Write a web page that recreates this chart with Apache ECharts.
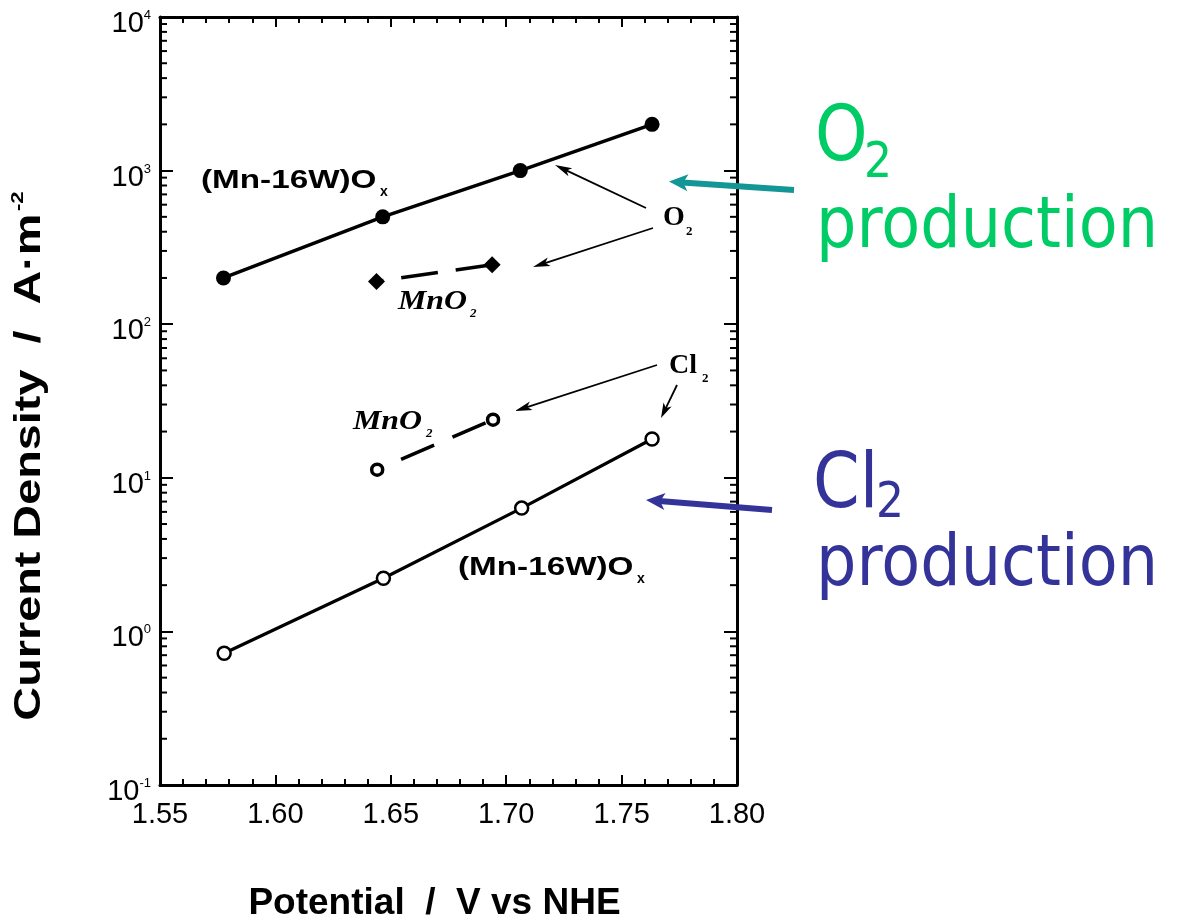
<!DOCTYPE html>
<html>
<head>
<meta charset="utf-8">
<script src="https://cdn.jsdelivr.net/npm/echarts@6/dist/echarts.min.js"></script>
<style>html,body{margin:0;padding:0;background:#fff;}#chart{width:1180px;height:916px;}</style>
</head>
<body>
<div id="chart"></div>
<script>
// ---- data ----
const o2Mn16W_x = [1.5775, 1.6465, 1.7061, 1.7632];
const o2Mn16W_y = [200, 500, 1000, 2000];
const o2MnO2_x = [1.6438, 1.6939];
const o2MnO2_y = [190, 244];
const cl2MnO2_x = [1.6441, 1.6943];
const cl2MnO2_y = [11.3, 23.9];
const cl2Mn16W_x = [1.5778, 1.6468, 1.7067, 1.7632];
const cl2Mn16W_y = [0.72, 2.22, 6.35, 17.9];
// axis ticks
const xMin = 1.55, xMax = 1.80, xStep = 0.05;
const yMin = 0.1, yMax = 10000;
const logDecades = [0.1, 1, 10, 100, 1000];
const logMinorMultipliers = [2, 3, 4, 5, 6, 7, 8, 9];

const pairs = (xs, ys) => xs.map((x, i) => [x, ys[i]]);
const minorTickValues = [];
logDecades.forEach(d => logMinorMultipliers.forEach(m => minorTickValues.push([xMin, +(d * m).toPrecision(3)])));

const chart = echarts.init(document.getElementById('chart'));

function arrow(x1, y1, x2, y2, color, w, hl, hw) {
  const a = Math.atan2(y2 - y1, x2 - x1);
  const bx = x2 - hl * Math.cos(a), by = y2 - hl * Math.sin(a);
  const px = -Math.sin(a) * hw / 2, py = Math.cos(a) * hw / 2;
  return [
    {type: 'line', z: 100, silent: true, shape: {x1: x1, y1: y1, x2: bx + (x2 - bx) * 0.3, y2: by + (y2 - by) * 0.3}, style: {stroke: color, lineWidth: w}},
    {type: 'polygon', z: 100, silent: true, shape: {points: [[x2, y2], [bx + px, by + py], [bx + (x2 - bx) * 0.25, by + (y2 - by) * 0.25], [bx - px, by - py]]}, style: {fill: color}}
  ];
}
function txt(x, y, text, o) {
  return {
    type: 'text', z: 100, silent: true, x: x, y: y, scaleX: o.sx || 1,
    style: {
      text: text, fill: o.color || '#000', fontSize: o.size, fontFamily: o.family || 'Liberation Sans',
      fontWeight: o.weight || 'normal', fontStyle: o.style || 'normal',
      align: 'left', verticalAlign: 'middle'
    }
  };
}

const graphics = [].concat(
  // black annotation arrows
  arrow(646, 208, 555, 165, '#000', 1.8, 17, 9),
  arrow(653, 228, 533, 267, '#000', 1.8, 17, 9),
  arrow(657, 365, 515, 411, '#000', 1.8, 17, 9),
  arrow(677, 385, 661, 418, '#000', 1.8, 15, 9),
  // coloured arrows
  arrow(794, 190, 669, 181.5, '#139696', 6, 19, 17),
  arrow(772, 510, 646, 500, '#333399', 6, 19, 17),
  [
    txt(201, 181, '(Mn-16W)O', {size: 25, weight: 'bold', sx: 1.33}),
    txt(380, 192, 'x', {size: 14, weight: 'bold'}),
    txt(458, 568, '(Mn-16W)O', {size: 25, weight: 'bold', sx: 1.33}),
    txt(637, 579, 'x', {size: 14, weight: 'bold'}),
    txt(663, 218, 'O', {size: 28, weight: 'bold', family: 'Liberation Serif'}),
    txt(686, 232, '2', {size: 13, weight: 'bold', family: 'Liberation Serif'}),
    txt(398, 302, 'MnO', {size: 27, weight: 'bold', style: 'italic', family: 'Liberation Serif', sx: 1.18}),
    txt(470, 314, '2', {size: 13, weight: 'bold', style: 'italic', family: 'Liberation Serif'}),
    txt(353, 422, 'MnO', {size: 27, weight: 'bold', style: 'italic', family: 'Liberation Serif', sx: 1.18}),
    txt(426, 434, '2', {size: 13, weight: 'bold', style: 'italic', family: 'Liberation Serif'}),
    txt(669, 366, 'Cl', {size: 28, weight: 'bold', family: 'Liberation Serif'}),
    txt(702, 379, '2', {size: 13, weight: 'bold', family: 'Liberation Serif'}),
    // coloured captions
    txt(815, 140, 'O', {size: 76, family: 'DejaVu Sans', color: '#00cc66', sx: 0.88}),
    txt(864, 164, '2', {size: 50, family: 'DejaVu Sans', color: '#00cc66', sx: 0.88}),
    txt(816, 228, 'production', {size: 72, family: 'DejaVu Sans', color: '#00cc66', sx: 0.885}),
    txt(813, 487, 'Cl', {size: 76, family: 'DejaVu Sans', color: '#333399', sx: 0.88}),
    txt(876, 504, '2', {size: 50, family: 'DejaVu Sans', color: '#333399', sx: 0.88}),
    txt(816, 566, 'production', {size: 72, family: 'DejaVu Sans', color: '#333399', sx: 0.885}),
    // y axis title
    {
      type: 'text', z: 100, silent: true, x: 30, y: 456, rotation: Math.PI / 2, scaleX: 1.3,
      style: {
        text: '{a|Current Density  /  A·m}{s|-2}', align: 'center', verticalAlign: 'middle',
        rich: {
          a: {fontSize: 36, fontWeight: 'bold', fontFamily: 'Liberation Sans', fill: '#000', lineHeight: 40},
          s: {fontSize: 17, fontWeight: 'bold', fontFamily: 'Liberation Sans', fill: '#000', verticalAlign: 'top', lineHeight: 40, padding: [0, 0, 18, 2]}
        }
      }
    }
  ]
);

const axisLine = {show: true, lineStyle: {color: '#000', width: 3}};
const xAxisCommon = {
  type: 'value', min: xMin, max: xMax, interval: xStep,
  axisLine: axisLine, splitLine: {show: false},
  axisTick: {show: true, inside: true, length: 10, lineStyle: {color: '#000', width: 2}},
  minorTick: {show: true, splitNumber: 5, length: 6, lineStyle: {color: '#000', width: 2}},
  minorSplitLine: {show: false}
};
const yAxisCommon = {
  type: 'log', logBase: 10, min: yMin, max: yMax,
  axisLine: axisLine, splitLine: {show: false},
  axisTick: {show: true, inside: true, length: 13, lineStyle: {color: '#000', width: 2}}
};

chart.setOption({
  animation: false,
  backgroundColor: '#fff',
  grid: {left: 160, top: 17, right: 443, bottom: 131, containLabel: false, outerBoundsMode: 'none'},
  xAxis: [
    Object.assign({}, xAxisCommon, {
      position: 'bottom',
      axisLabel: {show: true, color: '#000', fontSize: 29, fontFamily: 'Liberation Sans', margin: 15, formatter: v => v.toFixed(2)},
      name: 'Potential  /  V vs NHE', nameLocation: 'middle', nameGap: 100,
      nameTextStyle: {color: '#000', fontSize: 37, fontWeight: 'bold', fontFamily: 'Liberation Sans', padding: [0, 28, 0, 0]}
    }),
    Object.assign({}, xAxisCommon, {position: 'top', axisLabel: {show: false}})
  ],
  yAxis: [
    Object.assign({}, yAxisCommon, {
      position: 'left',
      axisLabel: {
        show: true, margin: 9, color: '#000', padding: [14, 0, 0, 0],
        formatter: v => '{b|10}{s|' + Math.round(Math.log10(v)) + '}',
        rich: {
          b: {fontSize: 29, fontFamily: 'Liberation Sans', color: '#000', lineHeight: 30},
          s: {fontSize: 13, fontFamily: 'Liberation Sans', color: '#000', verticalAlign: 'top', lineHeight: 30, padding: [0, 0, 12, 0]}
        }
      }
    }),
    Object.assign({}, yAxisCommon, {position: 'right', axisLabel: {show: false}})
  ],
  graphic: graphics,
  series: [
    {
      type: 'custom', name: 'log minor ticks', silent: true, clip: false, z: 5,
      xAxisIndex: 0, yAxisIndex: 0, encode: {x: 0, y: 1},
      data: minorTickValues,
      renderItem: function (params, api) {
        const v = api.value(1);
        const pl = api.coord([xMin, v]);
        const pr = api.coord([xMax, v]);
        const st = {stroke: '#000', lineWidth: 2};
        return {type: 'group', children: [
          {type: 'line', shape: {x1: pl[0], y1: pl[1], x2: pl[0] + 7, y2: pl[1]}, style: st},
          {type: 'line', shape: {x1: pr[0] - 7, y1: pr[1], x2: pr[0], y2: pr[1]}, style: st}
        ]};
      }
    },
    {
      type: 'line', name: 'O2 (Mn-16W)Ox', data: pairs(o2Mn16W_x, o2Mn16W_y),
      symbol: 'circle', symbolSize: 15, showAllSymbol: true,
      itemStyle: {color: '#000'}, lineStyle: {color: '#000', width: 3.5}, z: 10
    },
    {
      type: 'line', name: 'O2 MnO2', data: pairs(o2MnO2_x, o2MnO2_y),
      symbol: 'diamond', symbolSize: 17,
      itemStyle: {color: '#000'}, lineStyle: {color: '#000', width: 3.5, type: [37, 18], dashOffset: 30}, z: 10
    },
    {
      type: 'line', name: 'Cl2 MnO2', data: pairs(cl2MnO2_x, cl2MnO2_y),
      symbol: 'circle', symbolSize: 11,
      itemStyle: {color: '#fff', borderColor: '#000', borderWidth: 3.5},
      lineStyle: {color: '#000', width: 3.5, type: [36, 20], dashOffset: 30}, z: 10
    },
    {
      type: 'line', name: 'Cl2 (Mn-16W)Ox', data: pairs(cl2Mn16W_x, cl2Mn16W_y),
      symbol: 'circle', symbolSize: 13,
      itemStyle: {color: '#fff', borderColor: '#000', borderWidth: 2.5},
      lineStyle: {color: '#000', width: 3.2}, z: 10
    }
  ]
});
</script>
</body>
</html>
